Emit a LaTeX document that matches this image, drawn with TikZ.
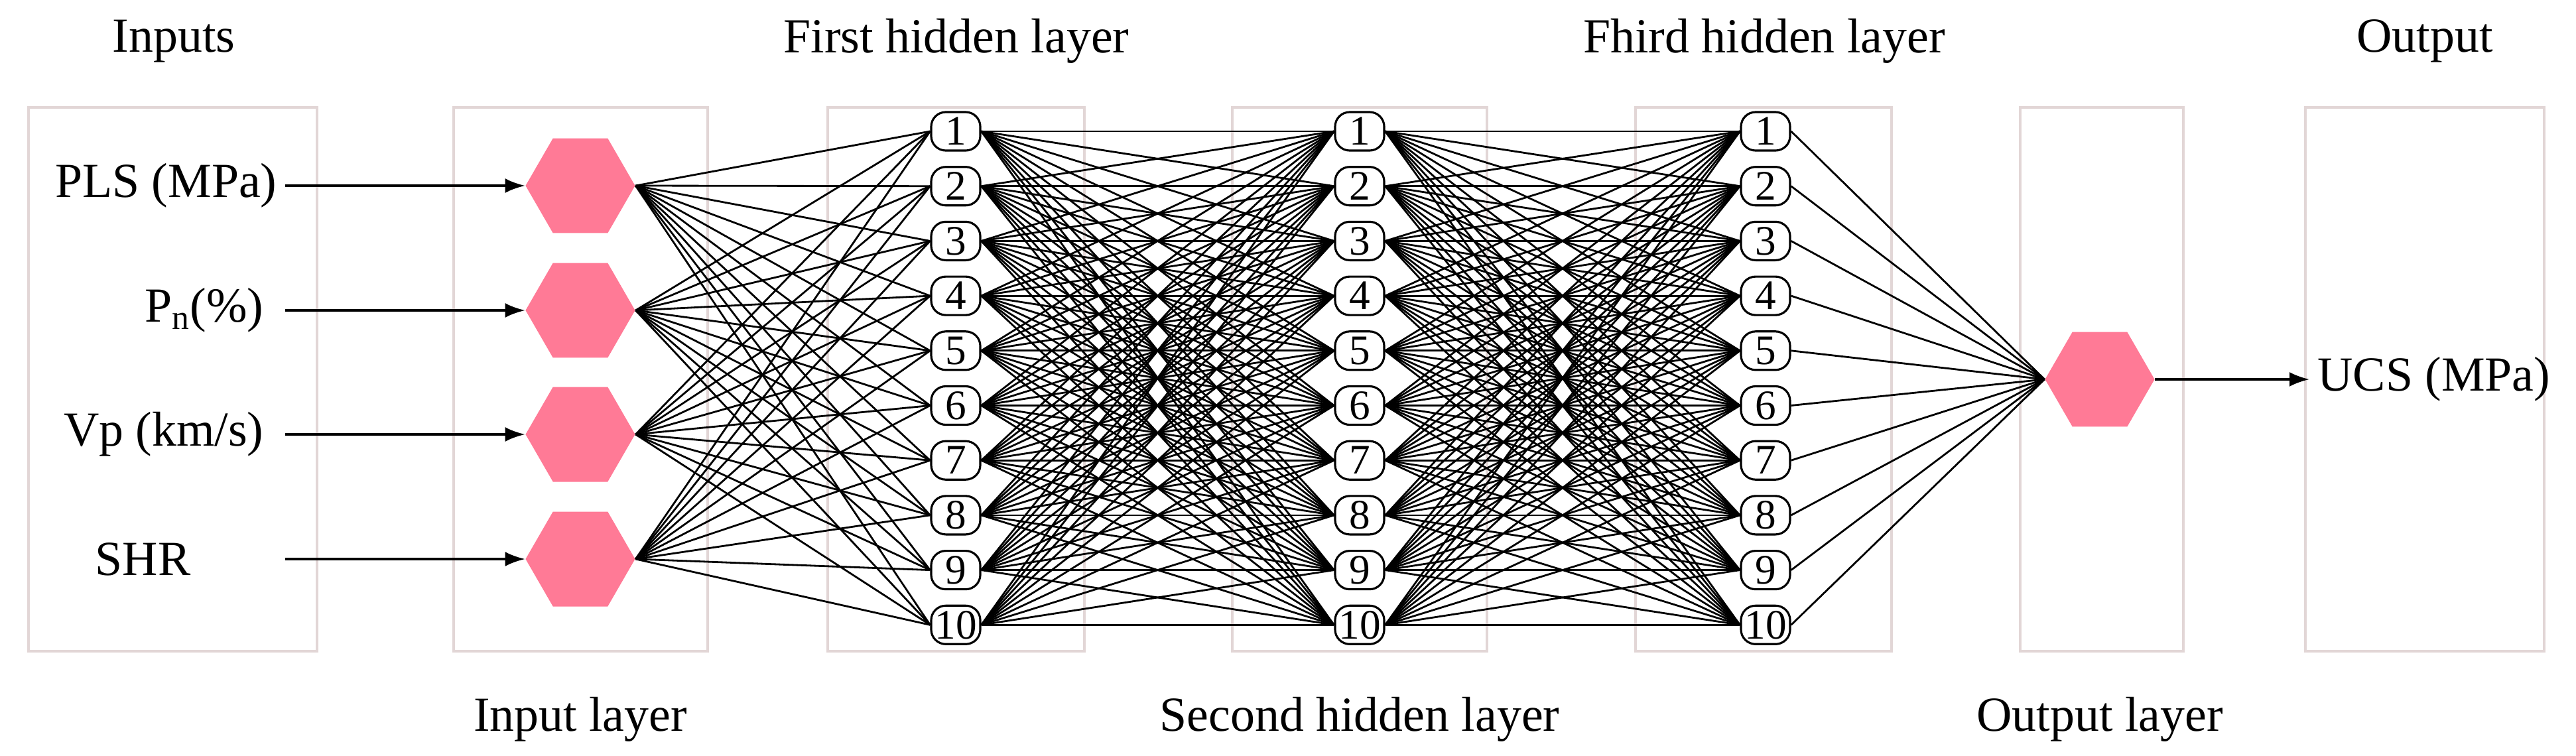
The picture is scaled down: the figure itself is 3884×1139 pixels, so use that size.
\documentclass[tikz,border=0pt]{standalone}
\usepackage{fontspec}
\setmainfont{Liberation Serif}
\usetikzlibrary{shapes.geometric,arrows.meta}
\begin{document}
\begin{tikzpicture}[x=0.01cm,y=-0.01cm,
  lay/.style={draw=boxc,line width=1pt},
  hex/.style={regular polygon,regular polygon sides=6,minimum size=1.65cm,inner sep=0pt,fill=hexc,draw=none},
  neu/.style={draw,line width=0.9pt,rounded corners=0.22cm,minimum width=0.74cm,minimum height=0.58cm,inner sep=0pt,font=\fontsize{18}{18}\selectfont},
  lab/.style={font=\fontsize{21}{21}\selectfont},
  con/.style={line width=0.8pt},
  arr/.style={line width=1pt,-{Latex[length=0.3cm,width=0.22cm]}}]
\definecolor{boxc}{HTML}{E2D6D6}
\definecolor{hexc}{HTML}{FF7A96}
\useasboundingbox (0,0) rectangle (3884,1139);
% boxes
\foreach \a/\b in {43/478,684/1067,1248/1635,1858/2242,2466/2852,3046/3292,3476/3836}
  \draw[lay] (\a,162) rectangle (\b,982);
% titles
\node[lab] (t1) at (262,62) {Inputs};
\node[lab] (t2) at (1442,62) {First hidden layer};
\node[lab] (t3) at (2660,62) {Fhird hidden layer};
\node[lab] (t4) at (3656,62) {Output};
\node[lab] (b1) at (875,1085) {Input layer};
\node[lab] (b2) at (2050,1085) {Second hidden layer};
\node[lab] (b3) at (3166,1085) {Output layer};
% inputs
\node[lab,anchor=east] (i1) at (430,280) {PLS (MPa)};
\node[lab,anchor=east] (i2) at (410,468) {P$_{\mathrm{n}}$(\%)};
\node[lab,anchor=east] (i3) at (410,655) {Vp (km/s)};
\node[lab,anchor=east] (i4) at (300,843) {SHR};
\foreach \i/\y in {1/280,2/468,3/655,4/843}{
  \node[hex] (h\i) at (875,\y) {};
  \coordinate (s\i) at (430,\y);
  \draw[arr] (s\i) -- (h\i.west);
}
% hidden layers
\foreach \k/\x in {1/1441,2/2050,3/2662}
  \foreach \n in {1,...,10}
    \node[neu] (n\k-\n) at (\x,{198+(\n-1)*82.7}) {\n};
\node[hex] (o) at (3166,572) {};
\node[lab,anchor=west] (u) at (3482,572) {UCS (MPa)};
\draw[arr] (o.east) -- (u.west);
% connections
\foreach \i in {1,...,4}
  \foreach \n in {1,...,10}
    \draw[con] (h\i.east) -- (n1-\n.west);
\foreach \a in {1,...,10}
  \foreach \b in {1,...,10}{
    \draw[con] (n1-\a.east) -- (n2-\b.west);
    \draw[con] (n2-\a.east) -- (n3-\b.west);
  }
\foreach \n in {1,...,10}
  \draw[con] (n3-\n.east) -- (o.west);
\end{tikzpicture}
\end{document}
